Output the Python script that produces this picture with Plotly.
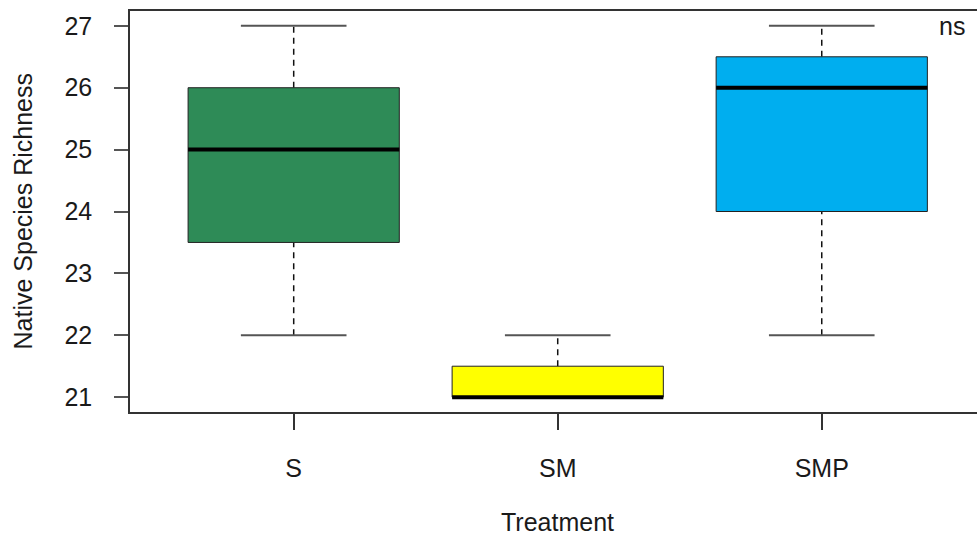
import plotly.graph_objects as go

# Summary statistics of native species richness per treatment
treatments = ["S", "SM", "SMP"]
lower_whisker = [22, 21, 22]
q1 = [23.5, 21, 24]
median = [25, 21, 26]
q3 = [26, 21.5, 26.5]
upper_whisker = [27, 22, 27]
fill_colors = ["#2E8B57", "#FFFF00", "#00AEEF"]
y_ticks = [21, 22, 23, 24, 25, 26, 27]

box_half = 0.4      # half width of each box in category units
cap_half = 0.2      # half width of whisker caps

fig = go.Figure()

for i, name in enumerate(treatments):
    x = i + 1
    # dashed whiskers
    for a, b in ((q3[i], upper_whisker[i]), (lower_whisker[i], q1[i])):
        if a != b:
            fig.add_trace(go.Scatter(
                x=[x, x], y=[a, b], mode="lines",
                line=dict(color="#111111", width=1.5, dash="6px,5px"),
                hoverinfo="skip", showlegend=False))
    # whisker caps
    for v in (lower_whisker[i], upper_whisker[i]):
        fig.add_trace(go.Scatter(
            x=[x - cap_half, x + cap_half], y=[v, v], mode="lines",
            line=dict(color="#555555", width=2),
            hoverinfo="skip", showlegend=False))
    # box body
    fig.add_trace(go.Scatter(
        x=[x - box_half, x + box_half, x + box_half, x - box_half, x - box_half],
        y=[q1[i], q1[i], q3[i], q3[i], q1[i]],
        mode="lines", fill="toself", fillcolor=fill_colors[i],
        line=dict(color="#222222", width=1),
        name=name, showlegend=False))
    # median
    fig.add_trace(go.Scatter(
        x=[x - box_half, x + box_half], y=[median[i], median[i]], mode="lines",
        line=dict(color="#000000", width=4),
        hoverinfo="skip", showlegend=False))

font_main = "Liberation Sans, Arial, sans-serif"
fs = 25

fig.update_layout(
    width=977, height=537,
    margin=dict(l=130, r=0, t=11, b=125),
    plot_bgcolor="white", paper_bgcolor="white",
    font=dict(family=font_main, size=fs, color="#1a1a1a"),
    xaxis=dict(
        range=[0.38, 3.588], tickvals=[1, 2, 3], ticktext=treatments,
        showgrid=False, zeroline=False,
        showline=True, linecolor="#333333", linewidth=1.5, mirror=True,
        ticks="outside", ticklen=16, tickwidth=1.5, tickcolor="#333333",
        ticklabelstandoff=17, tickfont=dict(size=fs),
    ),
    yaxis=dict(
        range=[20.76, 27.24], tickvals=y_ticks,
        showgrid=False, zeroline=False,
        showline=True, linecolor="#333333", linewidth=1.5, mirror=False,
        ticks="outside", ticklen=14, tickwidth=1.5, tickcolor="#555555",
        ticklabelstandoff=17, tickfont=dict(size=fs),
    ),
    annotations=[
        dict(text="Treatment", xref="paper", yref="paper",
             x=(557 - 130) / 847, y=-110 / 401, xanchor="center", yanchor="middle",
             showarrow=False, font=dict(size=fs)),
        dict(text="Native Species Richness", xref="paper", yref="paper",
             x=-108 / 847, y=0.5, xanchor="center", yanchor="middle",
             textangle=-90, showarrow=False, font=dict(size=fs)),
        dict(text="ns", xref="paper", yref="y",
             x=(952 - 130) / 847, y=27, xanchor="center", yanchor="middle",
             showarrow=False, font=dict(size=fs)),
    ],
)

fig.write_html("out.html")
